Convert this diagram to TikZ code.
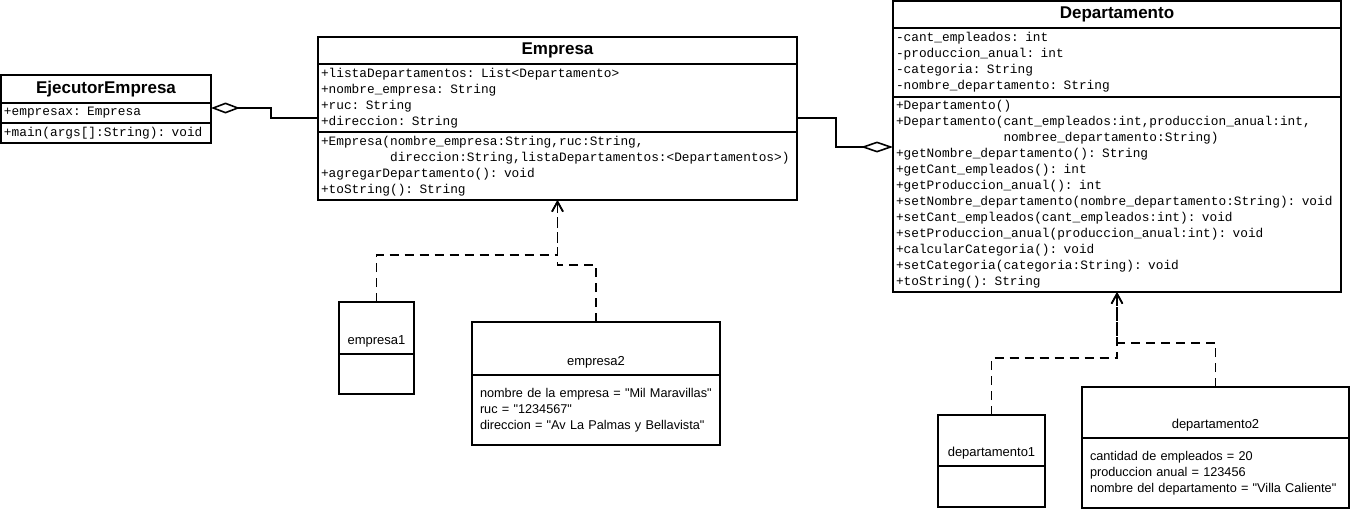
\documentclass[tikz,border=0pt]{standalone}
\usepackage{fontspec}
\setmainfont{Liberation Sans}
\setmonofont{Liberation Mono}
\usetikzlibrary{arrows.meta, positioning}
\tikzset{
    umlbox/.style={draw, line width=1.6pt, outer sep=0pt, inner sep=0pt},
    classtitle/.style={umlbox, minimum height=27pt, font=\bfseries\fontsize{17}{20}\selectfont},
    classpart/.style={umlbox, inner xsep=3pt, align=left, font=\ttfamily\fontsize{12.8}{16}\selectfont},
    objname/.style={umlbox, text depth=9.5pt, font=\fontsize{13}{16}\selectfont},
    objpart/.style={umlbox, inner xsep=8pt, align=left, font=\fontsize{12.7}{16}\selectfont},
    aggreg/.style={line width=1.6pt, -{Diamond[open, length=#1, width=11pt]}}
}
\tikzstyle{inst}=[line width=1.6pt, dash pattern=on 9pt off 6pt, -{Straight Barb[length=10pt, width=11pt]}]
\newcommand{\qt}{\textquotedbl}

\begin{document}
\begin{tikzpicture}[x=1pt, y=1pt]
 \useasboundingbox (0,0) rectangle (1352,-511);

      % clases
      \node[classtitle, minimum width=210pt, minimum height=28pt] (ejec) at (106,-89) {EjecutorEmpresa};
      \node[classpart, below=0pt of ejec, text width=204pt, minimum height=20pt] (ejecattr) {+empresax: Empresa};
      \node[classpart, below=0pt of ejecattr, text width=204pt, minimum height=20pt] (ejecmeth) {+main(args[]:String): void};

      \node[classtitle, minimum width=479pt] (emp) at (557.5,-50.5) {Empresa};
      \node[classpart, below=0pt of emp, text width=473pt, minimum height=68pt] (empattr) {+listaDepartamentos: List<Departamento>\\ +nombre\_empresa: String\\ +ruc: String\\ +direccion: String};
      \node[classpart, below=0pt of empattr, text width=473pt, minimum height=68pt] (empmeth) {+Empresa(nombre\_empresa:String,ruc:String,\\ \phantom{+Empresa(}direccion:String,listaDepartamentos:<Departamentos>)\\ +agregarDepartamento(): void\\ +toString(): String};

      \node[classtitle, minimum width=448pt] (dep) at (1117,-14.5) {Departamento};
      \node[classpart, below=0pt of dep, text width=442pt, minimum height=69pt] (depattr) {-cant\_empleados: int\\ -produccion\_anual: int\\ -categoria: String\\ -nombre\_departamento: String};
      \node[classpart, below=0pt of depattr, text width=442pt, minimum height=195pt] (depmeth) {+Departamento()\\ +Departamento(cant\_empleados:int,produccion\_anual:int,\\ \phantom{+Departamento(}nombree\_departamento:String)\\ +getNombre\_departamento(): String\\ +getCant\_empleados(): int\\ +getProduccion\_anual(): int\\ +setNombre\_departamento(nombre\_departamento:String): void\\ +setCant\_empleados(cant\_empleados:int): void\\ +setProduccion\_anual(produccion\_anual:int): void\\ +calcularCategoria(): void\\ +setCategoria(categoria:String): void\\ +toString(): String};

      % objetos
      \node[objname, minimum width=75pt, text height=42.5pt] (e1) at (376.5,-328) {empresa1};
      \node[umlbox, below=0pt of e1, minimum width=75pt, minimum height=40pt] (e1attr) {};
      \node[objname, minimum width=248pt, text height=43.5pt] (e2) at (596,-348.5) {empresa2};
      \node[objpart, below=0pt of e2, text width=232pt, minimum height=70pt] (e2attr) {\mbox{nombre de la empresa = \qt Mil Maravillas\qt}\\ ruc = \qt 1234567\qt\\ \mbox{direccion = \qt Av La Palmas y Bellavista\qt}};

      \node[objname, minimum width=107pt, text height=41.5pt] (d1) at (991.5,-440.5) {departamento1};
      \node[umlbox, below=0pt of d1, minimum width=107pt, minimum height=41pt] (d1attr) {};
      \node[objname, minimum width=267pt, text height=41.5pt] (d2) at (1215.5,-412.5) {departamento2};
      \node[objpart, below=0pt of d2, text width=251pt, minimum height=70pt] (d2attr) {cantidad de empleados = 20\\ produccion anual = 123456\\ \mbox{nombre del departamento = \qt Villa Caliente\qt}};

 \draw[aggreg=29pt] ([yshift=-20pt]empattr.west) -- ++(-47,0) |- ([yshift=5pt]ejecattr.east);
 \draw[aggreg=32pt] ([yshift=-20pt]empattr.east) -- ++(39,0) |- ([yshift=47.5pt]depmeth.west);

 \draw[inst] (e1.north) -- ++(0,47) -| (empmeth.south);
 \draw[inst] (e2.north) -- ++(0,57) -| (empmeth.south);
 \draw[inst] (d1.north) -- ++(0,57) -| (depmeth.south);
 \draw[inst] (d2.north) -- ++(0,44) -| (depmeth.south);

\end{tikzpicture}
\end{document}
